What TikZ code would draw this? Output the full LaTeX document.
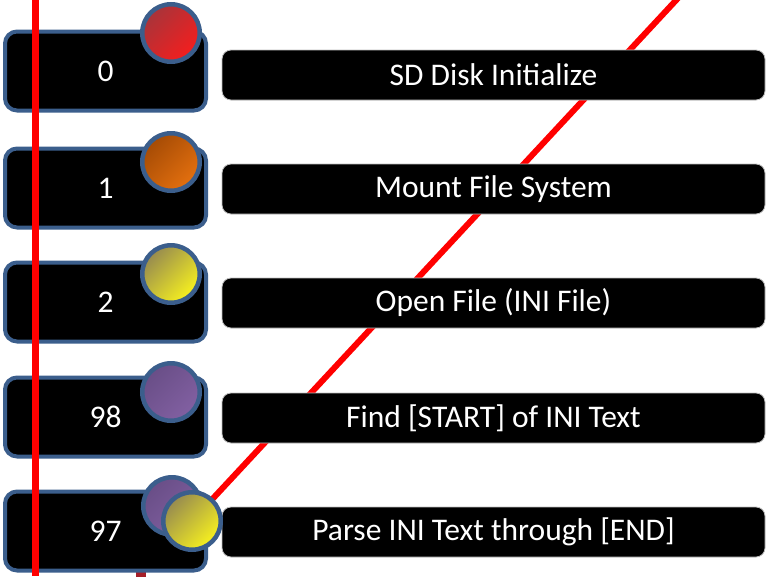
\documentclass[tikz,border=0pt]{standalone}
\usepackage{fontspec}
\setmainfont{Carlito}
\usetikzlibrary{positioning}

\definecolor{frameblue}{RGB}{59,94,140}
\definecolor{reddark}{RGB}{168,52,58}
\definecolor{redlite}{RGB}{245,30,30}
\definecolor{orangedark}{RGB}{165,75,5}
\definecolor{orangelite}{RGB}{228,112,15}
\definecolor{yellowdark}{RGB}{150,138,80}
\definecolor{yellowlite}{RGB}{248,242,30}
\definecolor{purpledark}{RGB}{105,78,135}
\definecolor{purplelite}{RGB}{130,96,162}
\definecolor{stub}{RGB}{165,30,40}

\begin{document}
\begin{tikzpicture}[x=1pt, y=-1pt,
    state/.style={draw=frameblue, line width=4pt, fill=black, rounded corners=12pt, minimum width=201pt, minimum height=79pt, text=white, font=\fontsize{31.5}{36}\selectfont},
    task/.style={draw=gray!50, line width=0.8pt, fill=black, rounded corners=9pt, minimum width=543pt, minimum height=50pt, text=white, font=\fontsize{31.5}{36}\selectfont},
    ball/.style 2 args={circle, draw=frameblue, line width=4.5pt, minimum size=57.5pt, inner sep=0pt, top color=#1, bottom color=#2, shading angle=45},
    redline/.style={red, line width=6pt}
]
\useasboundingbox (0,0) rectangle (766,576);

% Red rails
\coordinate (railtop) at (35.5,0);
\coordinate (railbot) at (35.5,576);
\coordinate (pin) at (192,521);
\coordinate (skytop) at (680,-4);
\coordinate (stubtop) at (141,560);
\coordinate (stubbot) at (141,580);
\draw[redline] (pin) -- (skytop);
\draw[stub, line width=10pt] (stubtop) -- (stubbot);

% Task boxes
\node[task] (t0) at (493.5,75) {SD Disk Initialize};
\node[task] (t1) at (493.5,189) {Mount File System};
\node[task] (t2) at (493.5,303) {Open File (INI File)};
\node[task] (t3) at (493.5,418) {Find [START] of INI Text};
\node[task] (t4) at (493.5,532) {Parse INI Text through [END]};

% State boxes
\node[state] (s0) at (105.5,71) {0};
\node[state] (s1) at (105.5,188) {1};
\node[state] (s2) at (105.5,302) {2};
\node[state] (s3) at (105.5,417) {98};
\node[state] (s4) at (105.5,531) {97};

% Status balls
\node[ball={reddark}{redlite}] (b0) at (171,33) {};
\node[ball={orangedark}{orangelite}] (b1) at (171,162) {};
\node[ball={yellowdark}{yellowlite}] (b2) at (171,274) {};
\node[ball={purpledark}{purplelite}] (b3) at (171,392) {};
\node[ball={purpledark}{purplelite}] (b4) at (172,506) {};
\node[ball={yellowdark}{yellowlite}] (b5) at (pin) {};

% Vertical rail on top
\draw[redline, line width=7pt] (railtop) -- (railbot);
\end{tikzpicture}
\end{document}
